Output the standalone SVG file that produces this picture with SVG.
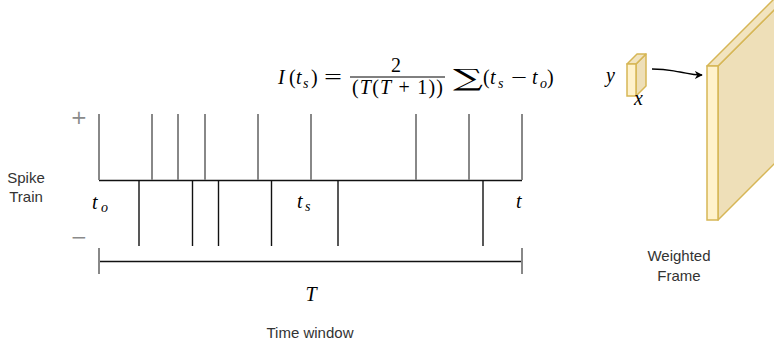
<svg xmlns="http://www.w3.org/2000/svg" width="774" height="341" viewBox="0 0 774 341">
<style>
.lbl{font-family:"Liberation Sans",Arial,sans-serif;font-size:15px;fill:#333;}
.m{font-family:"Liberation Serif","Times New Roman",serif;font-size:20px;fill:#000;}
.mi{font-style:italic;}
.sub{font-family:"Liberation Serif","Times New Roman",serif;font-size:14px;font-style:italic;fill:#000;}
.pos{stroke:#888;stroke-width:2;fill:none;}
.neg{stroke:#111;stroke-width:1.4;fill:none;}
.base{stroke:#111;stroke-width:1.5;fill:none;}
.front{fill:#fff2cc;stroke:#d6b656;stroke-width:1.5;}
.top{fill:#f2e4bf;stroke:#d6b656;stroke-width:1.5;stroke-linejoin:round;}
.side{fill:#eedfb8;stroke:#d6b656;stroke-width:1.5;stroke-linejoin:round;}
.sign{font-family:"DejaVu Sans",sans-serif;font-size:20px;fill:#8a8a8a;}
</style>
<defs>
<marker id="ah" viewBox="0 0 10 10" refX="9" refY="5" markerWidth="8" markerHeight="8" markerUnits="userSpaceOnUse" orient="auto">
<path d="M0,0 L10,5 L0,10 L3,5 Z" fill="#000"/>
</marker>
</defs>

<g id="formula">
<text class="m mi" x="278" y="84">I</text>
<text class="m" x="289" y="84">(</text>
<text class="m mi" x="296" y="84">t</text>
<text class="sub" x="303" y="88">s</text>
<text class="m" x="311" y="84">)</text>
<text class="m" x="324" y="84" textLength="18" lengthAdjust="spacingAndGlyphs">=</text>
<text class="m" x="396" y="72" text-anchor="middle" font-size="18">2</text>
<line x1="350" y1="77" x2="445" y2="77" stroke="#000" stroke-width="1"/>
<text class="m" x="352" y="94" font-size="18" textLength="91" lengthAdjust="spacing">(<tspan font-style="italic">T</tspan>(<tspan font-style="italic">T</tspan> + 1))</text>
<text x="453" y="86" font-family="DejaVu Serif,serif" font-size="24" fill="#000" textLength="30" lengthAdjust="spacingAndGlyphs">∑</text>
<text class="m" x="483" y="84">(</text>
<text class="m mi" x="490" y="84">t</text>
<text class="sub" x="498" y="88">s</text>
<text class="m" x="511" y="84" textLength="16" lengthAdjust="spacingAndGlyphs">−</text>
<text class="m mi" x="532" y="84">t</text>
<text class="sub" x="540" y="88">o</text>
<text class="m" x="547" y="84">)</text>
</g>

<g id="spike-train">
<line class="base" x1="99" y1="180.5" x2="522" y2="180.5"/>
<g id="positive-spikes">
<line class="pos" x1="99" y1="114" x2="99" y2="180"/>
<line class="pos" x1="152" y1="114" x2="152" y2="180"/>
<line class="pos" x1="178" y1="114" x2="178" y2="180"/>
<line class="pos" x1="205" y1="114" x2="205" y2="180"/>
<line class="pos" x1="258" y1="114" x2="258" y2="180"/>
<line class="pos" x1="311" y1="114" x2="311" y2="180"/>
<line class="pos" x1="416" y1="114" x2="416" y2="180"/>
<line class="pos" x1="469" y1="114" x2="469" y2="180"/>
<line class="pos" x1="522" y1="114" x2="522" y2="180"/>
</g>
<g id="negative-spikes">
<line class="neg" x1="139" y1="180" x2="139" y2="246"/>
<line class="neg" x1="192.5" y1="180" x2="192.5" y2="246"/>
<line class="neg" x1="218.5" y1="180" x2="218.5" y2="246"/>
<line class="neg" x1="271.5" y1="180" x2="271.5" y2="246"/>
<line class="neg" x1="338" y1="180" x2="338" y2="246"/>
<line class="neg" x1="483" y1="180" x2="483" y2="246"/>
</g>
<text class="sign" x="79" y="124" text-anchor="middle">+</text>
<text class="sign" x="79" y="244" text-anchor="middle">−</text>
<text class="lbl" x="26" y="183" text-anchor="middle">Spike</text>
<text class="lbl" x="26" y="202" text-anchor="middle">Train</text>
<text class="m mi" x="92" y="209">t</text>
<text class="sub" x="101" y="212">o</text>
<text class="m mi" x="297" y="208">t</text>
<text class="sub" x="305" y="211">s</text>
<text class="m mi" x="516" y="208">t</text>
</g>

<g id="time-window">
<line class="base" x1="99" y1="261.5" x2="522" y2="261.5"/>
<line class="pos" x1="99" y1="248" x2="99" y2="274"/>
<line class="pos" x1="522" y1="248" x2="522" y2="274"/>
<text class="m mi" x="311" y="301" text-anchor="middle" font-size="22">T</text>
<text class="lbl" x="310" y="338" text-anchor="middle">Time window</text>
</g>

<g id="small-block">
<polygon class="side" points="636,64 646,54 646,86 636,96"/>
<polygon class="top" points="627,64 637,54 646,54 636,64"/>
<rect class="front" x="627" y="64" width="9" height="32"/>
<text class="m mi" x="606" y="82">y</text>
<text class="m mi" x="634" y="105" font-size="18">x</text>
</g>

<g id="weighted-frame">
<polygon class="side" points="718,66 798,-14 798,140 718,220"/>
<polygon class="top" points="707,66 787,-14 798,-14 718,66"/>
<rect class="front" x="707" y="66" width="11" height="154"/>
<text class="lbl" x="679" y="261" text-anchor="middle">Weighted</text>
<text class="lbl" x="679" y="281" text-anchor="middle">Frame</text>
</g>

<g id="connectors">
<path d="M652,69 C668,69 672,71 680,72 C687,73 690,75 702,75" fill="none" stroke="#000" stroke-width="1.3" marker-end="url(#ah)"/>
</g>
</svg>
